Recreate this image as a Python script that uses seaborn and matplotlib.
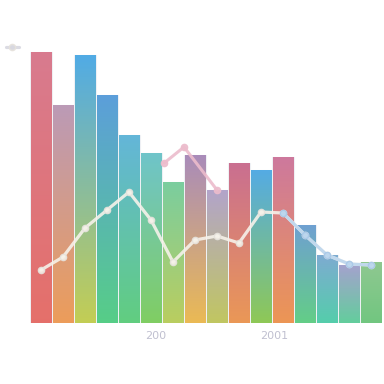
import numpy as np
import pandas as pd
import matplotlib
matplotlib.use("Agg")
import matplotlib.pyplot as plt
from matplotlib.colors import to_rgb
import seaborn as sns

# bar data
bars = [f"b{i}" for i in range(16)]
bar_values = [271, 218, 268, 228, 188, 170, 141, 168, 133, 160, 153, 166, 98, 68, 58, 61]
top_colors = ["#d46c82", "#b48fae", "#3ea2e2", "#4a94d6", "#52aed4", "#5fbec4", "#6cc894", "#a07fb2",
              "#aa9ac4", "#c45f84", "#42a2e0", "#c86a92", "#5f96cc", "#6fa2cc", "#9a98c8", "#82c284"]
bottom_colors = ["#e2605a", "#ea9248", "#bcc842", "#44c87a", "#50c872", "#72c852", "#b2c84e", "#e8b242",
                 "#bac050", "#e88c44", "#82c244", "#ea8a42", "#52c87a", "#42c8a2", "#52c892", "#62c072"]

line_values = [53, 66, 95, 113, 131, 103, 61, 83, 87, 80, 111, 110, 88, 68, 59, 58]
blue_from = 11
pink_idx = [5.6, 6.5, 8.0]
pink_values = [160, 176, 133]

tick_pos = [5.2, 10.6]
tick_labels = ["200", "2001"]

df = pd.DataFrame({"bar": bars, "value": bar_values})

sns.set_theme(style="white")
fig = plt.figure(figsize=(3.84, 3.84), dpi=100)
ax = fig.add_axes([30 / 384, 61 / 384, 352 / 384, 290 / 384])

sns.barplot(data=df, x="bar", y="value", width=1.0, color="white", ax=ax,
            edgecolor="#eef0f4", linewidth=0.8)

# vertical gradient inside each bar
for patch, c_top, c_bot in zip(ax.patches, top_colors, bottom_colors):
    x0, y0 = patch.get_x(), patch.get_y()
    w, h = patch.get_width(), patch.get_height()
    t = np.linspace(0, 1, 100)[:, None]
    top = np.array(to_rgb(c_top))
    bot = np.array(to_rgb(c_bot))
    grad = bot + (top - bot) * t
    grad = grad * 0.9 + 0.1  # washed look
    ax.imshow(grad[:, None, :], extent=[x0 + 0.03, x0 + w - 0.03, y0, y0 + h], origin="lower",
              aspect="auto", zorder=2, clip_path=patch, clip_on=True)

ax.plot(pink_idx, pink_values, color="#ecbccc", lw=2.2, marker="o", ms=4.5,
        alpha=0.9, zorder=4)
ln, = ax.plot(range(len(line_values)), line_values, color="#f6f2ea", lw=2.3, marker="o", ms=4.5,
              mec="#e6e2dc", alpha=0.9, zorder=5)
xs = list(range(blue_from, len(line_values)))
ax.plot(xs, line_values[blue_from:], color="#bcd6ee", lw=2.3, marker="o", ms=4.5,
        mec="#a8c8e8", alpha=0.9, zorder=6)

ax.set_xlim(-0.5, 15.5)
ax.set_ylim(0, 290)
ax.set_xticks(tick_pos)
ax.set_xticklabels(tick_labels, color="#c0c0d0", fontsize=8)
ax.set_yticks([])
ax.set_xlabel("")
ax.set_ylabel("")
ax.tick_params(axis="x", length=0, pad=6)
sns.despine(ax=ax, left=True, bottom=True)

ax.legend(handles=[ln], labels=[" "], loc="upper left", bbox_to_anchor=(-0.09, 0.99),
          frameon=False, handlelength=1.6, fontsize=6)
for h in ax.get_legend().legend_handles:
    h.set_color("#d8d8e0")

fig.savefig("out.png", dpi=100)
